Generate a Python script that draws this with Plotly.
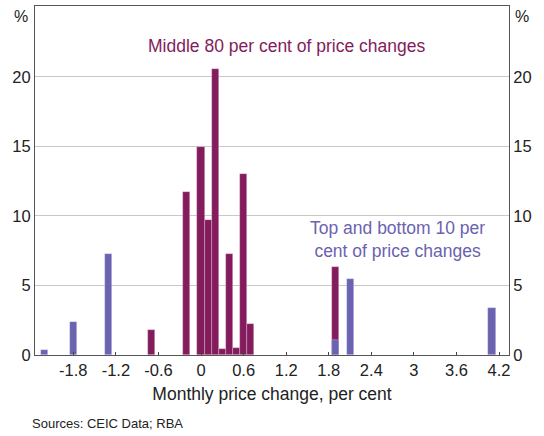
import plotly.graph_objects as go

# Data
mid_x = [-0.7, -0.2, 0.0, 0.1, 0.2, 0.3, 0.4, 0.5, 0.6, 0.7, 1.9]
mid_y = [1.8, 11.75, 14.95, 9.7, 20.6, 0.45, 7.3, 0.5, 13.0, 2.2, 6.35]
tail_x = [-2.2, -1.8, -1.3, 1.9, 2.1, 4.1]
tail_y = [0.35, 2.4, 7.3, 1.1, 5.5, 3.35]
x_ticks = [-1.8, -1.2, -0.6, 0, 0.6, 1.2, 1.8, 2.4, 3, 3.6, 4.2]
x_tick_labels = ["-1.8", "-1.2", "-0.6", "0", "0.6", "1.2", "1.8", "2.4", "3", "3.6", "4.2"]
y_ticks = [0, 5, 10, 15, 20]

MAROON = "#821C5C"
PURPLE = "#6B62B0"
FONT = "Liberation Sans, Arial, sans-serif"
TXT = "#222"

fig = go.Figure()
fig.add_trace(go.Bar(x=mid_x, y=mid_y, width=0.1, marker=dict(color=MAROON,
                     line=dict(color="rgba(255,210,235,0.55)", width=0.6)),
                     name="Middle 80", showlegend=False))
fig.add_trace(go.Bar(x=tail_x, y=tail_y, width=0.1, marker=dict(color=PURPLE,
                     line=dict(color="rgba(230,230,255,0.5)", width=0.6)),
                     name="Tails", showlegend=False))
fig.add_trace(go.Scatter(x=[None], y=[None], yaxis="y2", showlegend=False, hoverinfo="skip"))

yr = [0, 25.1]
fig.update_layout(
    width=544, height=436,
    margin=dict(l=35, r=35, t=6, b=81),
    paper_bgcolor="white", plot_bgcolor="white",
    barmode="overlay", bargap=0,
    font=dict(family=FONT, size=16, color=TXT),
    xaxis=dict(range=[-2.34, 4.34], tickvals=x_ticks, ticktext=x_tick_labels,
               ticks="inside", ticklen=3, tickcolor="#444", showgrid=False, zeroline=False,
               showline=True, linecolor="#555", linewidth=1, mirror=True,
               tickfont=dict(size=16.5, family=FONT, color=TXT),
               title=dict(text="Monthly price change, per cent", standoff=9,
                          font=dict(size=17.5, family=FONT, color=TXT))),
    yaxis=dict(range=yr, tickvals=y_ticks, showgrid=True, gridcolor="#C8C8C8", gridwidth=1,
               zeroline=False, showline=True, linecolor="#555", linewidth=1,
               ticks="", tickfont=dict(size=16.5, family=FONT, color=TXT)),
    yaxis2=dict(range=yr, tickvals=y_ticks, overlaying="y", side="right", showgrid=False,
                zeroline=False, showline=True, linecolor="#555", linewidth=1,
                ticks="", tickfont=dict(size=16.5, family=FONT, color=TXT)),
    annotations=[
        dict(text="%", xref="paper", yref="paper", x=0, y=1, xanchor="right", yanchor="top",
             xshift=-5, yshift=0, showarrow=False, font=dict(size=16, family=FONT, color=TXT)),
        dict(text="%", xref="paper", yref="paper", x=1, y=1, xanchor="left", yanchor="top",
             xshift=4, yshift=0, showarrow=False, font=dict(size=16, family=FONT, color=TXT)),
        dict(text="Middle 80 per cent of price changes", x=1.21, y=22.2, xref="x", yref="y",
             showarrow=False, xanchor="center", yanchor="middle",
             font=dict(size=17.5, family=FONT, color=MAROON)),
        dict(text="Top and bottom 10 per<br>cent of price changes", x=2.77, y=8.3,
             xref="x", yref="y", showarrow=False, xanchor="center", yanchor="middle",
             font=dict(size=17.5, family=FONT, color=PURPLE)),
        dict(text="Sources: CEIC Data; RBA", xref="paper", yref="paper", x=-0.0105, y=0,
             xanchor="left", yanchor="middle", yshift=-68, showarrow=False,
             font=dict(size=13, family=FONT, color=TXT)),
    ],
)

fig.write_html("out.html", config={"displayModeBar": False},
               post_script="document.body.style.margin='0';")
